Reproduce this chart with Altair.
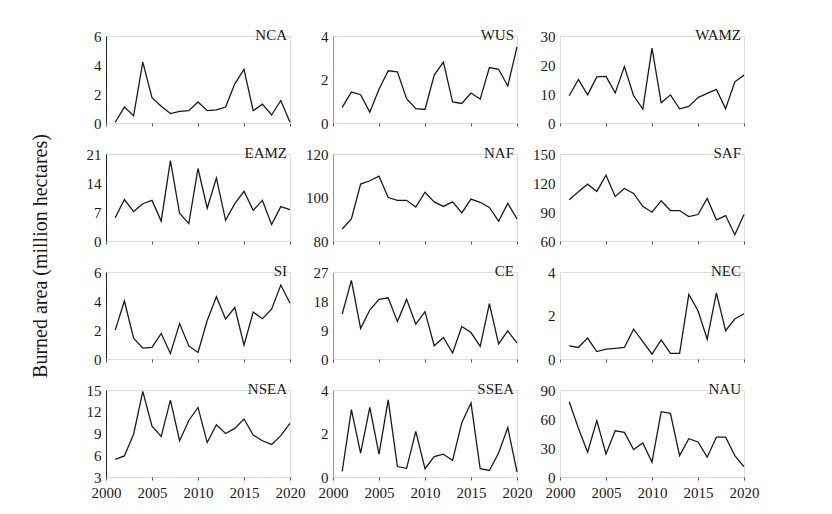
import altair as alt
import pandas as pd

# Annual burned area per region, 2001-2020 (million hectares)
years = list(range(2001, 2021))

regions = ["NCA", "WUS", "WAMZ", "EAMZ", "NAF", "SAF", "SI", "CE", "NEC", "NSEA", "SSEA", "NAU"]

nca = [0.05, 1.1, 0.5, 4.2, 1.75, 1.15, 0.65, 0.8, 0.85, 1.45,
       0.85, 0.9, 1.1, 2.7, 3.7, 0.85, 1.3, 0.55, 1.55, 0.05]
wus = [0.72, 1.42, 1.3, 0.5, 1.55, 2.4, 2.35, 1.12, 0.66, 0.62,
       2.2, 2.8, 0.97, 0.9, 1.38, 1.1, 2.55, 2.47, 1.7, 3.5]
wamz = [9.4, 15.0, 9.7, 15.9, 16.1, 10.4, 19.5, 9.4, 4.8, 25.8,
        7.0, 9.7, 4.9, 5.7, 8.75, 10.2, 11.6, 4.9, 14.2, 16.5]
eamz = [5.6, 10.0, 7.1, 9.0, 9.8, 4.8, 19.4, 6.7, 4.2, 17.5,
        7.9, 15.2, 5.0, 9.0, 12.0, 7.4, 9.8, 4.0, 8.3, 7.6]
naf = [85.5, 90.2, 106.2, 107.7, 109.8, 100.0, 98.7, 98.7, 95.6, 102.4,
       98.0, 95.9, 98.0, 92.9, 99.3, 97.8, 95.4, 89.1, 97.3, 90.2]
saf = [102.7, 110.9, 118.8, 111.3, 128.0, 106.1, 114.3, 109.2, 95.9, 89.8,
       101.7, 91.5, 91.5, 85.3, 87.4, 104.1, 81.9, 86.3, 66.5, 87.4]
si = [1.99, 4.0, 1.43, 0.75, 0.8, 1.76, 0.38, 2.44, 0.9, 0.45,
      2.65, 4.3, 2.76, 3.55, 0.95, 3.24, 2.78, 3.44, 5.1, 3.85]
ce = [13.96, 24.4, 9.5, 15.2, 18.5, 19.0, 11.6, 18.5, 10.8, 14.7,
      4.1, 6.7, 1.85, 10.1, 8.2, 3.9, 17.2, 4.7, 8.7, 4.9]
nec = [0.6, 0.53, 0.96, 0.34, 0.45, 0.49, 0.53, 1.37, 0.8, 0.23,
       0.88, 0.26, 0.26, 2.97, 2.22, 0.91, 3.04, 1.3, 1.84, 2.08]
nsea = [5.44, 5.9, 8.9, 14.8, 10.0, 8.6, 13.6, 8.0, 10.8, 12.6,
        7.75, 10.2, 9.0, 9.7, 11.0, 8.8, 8.0, 7.5, 8.7, 10.4]
ssea = [0.26, 3.1, 1.1, 3.2, 1.05, 3.55, 0.48, 0.4, 2.1, 0.38,
        0.94, 1.05, 0.76, 2.5, 3.4, 0.38, 0.3, 1.1, 2.27, 0.23]
nau = [77.8, 50.5, 25.6, 58.4, 23.9, 47.8, 46.1, 28.3, 35.2, 15.4,
       67.6, 65.9, 22.2, 39.6, 36.2, 20.5, 41.3, 41.3, 22.2, 10.6]

series = [nca, wus, wamz, eamz, naf, saf, si, ce, nec, nsea, ssea, nau]

# y-axis tick values for each region
y_ticks = [
    [0, 2, 4, 6], [0, 2, 4], [0, 10, 20, 30],
    [0, 7, 14, 21], [80, 100, 120], [60, 90, 120, 150],
    [0, 2, 4, 6], [0, 9, 18, 27], [0, 2, 4],
    [3, 6, 9, 12, 15], [0, 2, 4], [0, 30, 60, 90],
]
year_ticks = [2000, 2005, 2010, 2015, 2020]

SERIF = "Liberation Serif"
PW, PH = 184, 87


def panel(name, values, ticks, col, bottom):
    df = pd.DataFrame({"year": years, "area": values})
    x_axis = alt.Axis(
        values=year_ticks, format="d", title=None, grid=False,
        domain=False, labels=bottom, ticks=True, tickSize=3,
        tickColor="#555", labelFont=SERIF, labelFontSize=15,
        labelColor="#1a1a1a", labelPadding=5, labelFlush=False,
    )
    y_axis = alt.Axis(
        values=ticks, title=None, grid=False,
        domain=(col < 2), domainColor="#222" if col == 0 else "#999",
        domainWidth=1, ticks=False, labelFont=SERIF, labelFontSize=15,
        labelColor="#1a1a1a", labelPadding=5, labelFlush=False,
    )
    line = alt.Chart(df).mark_line(color="#1a1a1a", strokeWidth=1.3).encode(
        x=alt.X("year:Q", scale=alt.Scale(domain=[2000, 2020], nice=False, zero=False), axis=x_axis),
        y=alt.Y("area:Q", scale=alt.Scale(domain=[ticks[0], ticks[-1]], nice=False, zero=False), axis=y_axis),
    )
    label = alt.Chart(pd.DataFrame({"t": [name]})).mark_text(
        align="right", baseline="middle", font=SERIF, fontSize=15, color="#1a1a1a"
    ).encode(text="t:N", x=alt.value(PW - 3), y=alt.value(-1))
    return alt.layer(line, label).properties(width=PW, height=PH)


cells = []
for r in range(4):
    for c in range(3):
        i = r * 3 + c
        cells.append(panel(regions[i], series[i], y_ticks[i], c, r == 3))

chart = alt.concat(
    *cells, columns=3, spacing={"row": 31, "column": 43}, bounds="flush"
).properties(
    title=alt.TitleParams(
        "Burned area (million hectares)", orient="left", anchor="middle",
        font=SERIF, fontSize=20, fontWeight="normal", color="#1a1a1a",
        offset=35, dx=8,
    ),
    padding={"left": 30, "top": 27, "right": 10, "bottom": 10},
).configure_view(stroke=None).configure(background="white")

chart.save("out.html", embed_options={"renderer": "svg", "actions": False})
